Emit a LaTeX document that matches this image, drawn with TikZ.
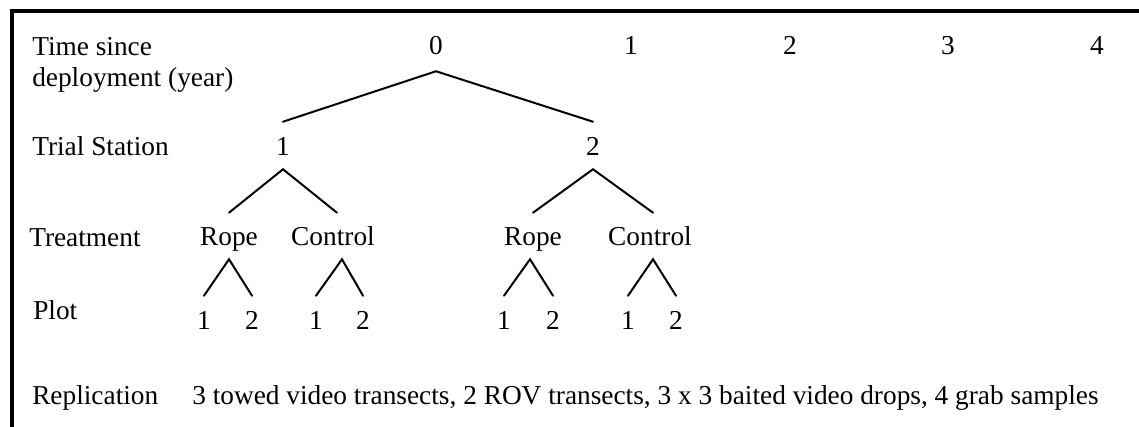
\documentclass[tikz,border=0pt]{standalone}
\usepackage{fontspec}
\setmainfont{Liberation Serif}
\begin{document}
\begin{tikzpicture}[x=0.75pt,y=-0.75pt,
  lbl/.style={inner sep=0pt,anchor=base west,font=\fontsize{20.5}{23.25}\selectfont},
  tn/.style={inner sep=0pt,anchor=base,text height=13.5pt,text depth=4.5pt,font=\fontsize{20.5}{23.25}\selectfont},
  br/.style={line width=1.5pt,line cap=round},
  frame/.style={line width=3pt}]
\useasboundingbox (0,0) rectangle (1139,427);
% frame (top and left edges of a cut-off box)
\draw[frame] (12,427) -- (12,11.5) -- (1139,11.5);
% row labels
\node[inner sep=0pt,anchor=north west,align=left,font=\fontsize{20.5}{23.25}\selectfont] (ltime) at (32,37) {Time since\\deployment (year)};
\node[lbl] (lstat) at (32,156) {Trial Station};
\node[lbl] (ltreat) at (29,247) {Treatment};
\node[lbl] (lplot) at (33,320) {Plot};
\node[lbl] (lrep) at (32,405) {Replication};
\node[lbl] (rep) at (192,405) {3 towed video transects, 2 ROV transects, 3 x 3 baited video drops, 4 grab samples};
% years
\node[tn] (y0) at (436,55) {0};
\node[tn] (y1) at (631,55) {1};
\node[tn] (y2) at (790,55) {2};
\node[tn] (y3) at (948,55) {3};
\node[tn] (y4) at (1097,55) {4};
% stations
\node[tn] (s1) at (283,156) {1};
\node[tn] (s2) at (593,156) {2};
% treatments
\node[tn] (r1) at (229,246) {Rope};
\node[tn] (c1) at (333,246) {Control};
\node[tn] (r2) at (533,246) {Rope};
\node[tn] (c2) at (650,246) {Control};
% plots
\node[tn] (r1a) at (204,330) {1};
\node[tn] (r1b) at (252,330) {2};
\node[tn] (c1a) at (316,330) {1};
\node[tn] (c1b) at (363,330) {2};
\node[tn] (r2a) at (504,330) {1};
\node[tn] (r2b) at (553,330) {2};
\node[tn] (c2a) at (628,330) {1};
\node[tn] (c2b) at (676,330) {2};
% branches
\draw[br] ([yshift=12pt]s1.north) -- ([yshift=-7.5pt]y0.south) -- ([yshift=12pt]s2.north);
\draw[br] ([yshift=11.25pt]r1.north) -- ([yshift=-5.25pt]s1.south) -- ([xshift=3pt,yshift=11.25pt]c1.north);
\draw[br] ([yshift=11.25pt]r2.north) -- ([yshift=-5.25pt]s2.south) -- ([xshift=2.25pt,yshift=11.25pt]c2.north);
\draw[br] ([yshift=12pt]r1a.north) -- ([yshift=-5.25pt]r1.south) -- ([yshift=12pt]r1b.north);
\draw[br] ([yshift=12pt]c1a.north) -- ([xshift=6.75pt,yshift=-5.25pt]c1.south) -- ([yshift=12pt]c1b.north);
\draw[br] ([yshift=12pt]r2a.north) -- ([xshift=-2.25pt,yshift=-5.25pt]r2.south) -- ([yshift=12pt]r2b.north);
\draw[br] ([yshift=12pt]c2a.north) -- ([xshift=2.25pt,yshift=-5.25pt]c2.south) -- ([yshift=12pt]c2b.north);
\end{tikzpicture}
\end{document}
